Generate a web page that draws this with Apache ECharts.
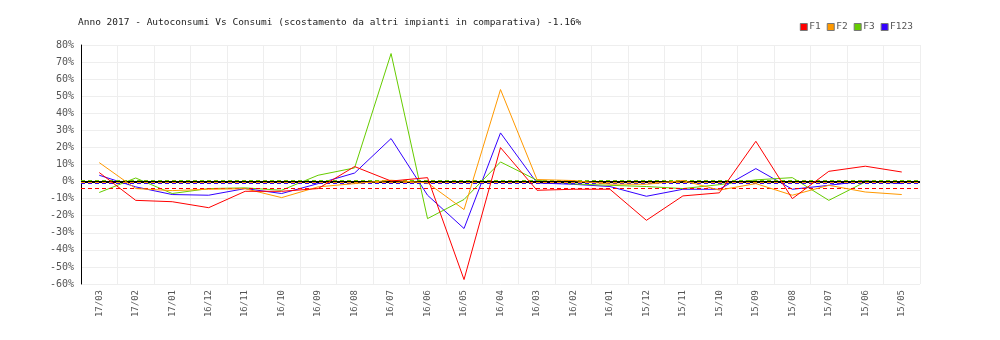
<!DOCTYPE html>
<html>
<head>
<meta charset="utf-8">
<script src="https://cdn.jsdelivr.net/npm/echarts@6/dist/echarts.min.js"></script>
<style>
html,body{margin:0;padding:0;background:#fff;}
#c{width:1000px;height:340px;}
</style>
</head>
<body>
<div id="c"></div>
<script>
const titleText = 'Anno 2017 - Autoconsumi Vs Consumi (scostamento da altri impianti in comparativa) -1.16%';
const categories = ['17/03','17/02','17/01','16/12','16/11','16/10','16/09','16/08','16/07','16/06','16/05','16/04','16/03','16/02','16/01','15/12','15/11','15/10','15/09','15/08','15/07','15/06','15/05'];
const seriesNames = ['F1','F2','F3','F123'];
const f1 = [5.3, -11.0, -11.8, -15.3, -5.7, -5.7, -4.1, 8.8, 0.3, 2.3, -57.4, 19.9, -5.1, -4.5, -4.5, -22.7, -8.4, -6.6, 23.6, -10.0, 6.0, 9.0, 5.6];
const f2 = [11.1, -4.1, -5.3, -4.5, -4.2, -9.4, -3.1, -1.2, 0.8, -0.8, -16.4, 53.9, 1.2, 0.6, -1.5, -1.6, 0.6, -5.0, -1.2, -8.0, -2.2, -6.1, -7.6];
const f3 = [-6.4, 2.1, -7.0, -4.1, -3.7, -5.1, 3.7, 8.0, 75.0, -21.7, -10.5, 11.5, 0.8, -1.4, -2.2, -2.9, -4.1, -1.8, 1.0, 2.3, -11.0, -0.2, -0.4];
const f123 = [3.7, -3.1, -7.6, -8.0, -4.1, -7.0, -1.2, 5.0, 25.2, -8.0, -27.5, 28.5, -0.8, -1.6, -2.9, -8.6, -4.5, -4.5, 7.6, -4.5, -2.2, 0.4, -1.2];
const colors = ['#ff0000','#ff9900','#66cc00','#3300ff'];
const yMin = -60, yMax = 80, yStep = 10;

const mono = 'DejaVu Sans Mono';
const values = [f1, f2, f3, f123];

const series = values.map((d, i) => {
  const ml = [{type: 'average', lineStyle: {color: colors[i], type: [4, 3], width: 1}}];
  if (i === 0) {
    ml.push({yAxis: 0, lineStyle: {color: '#000', type: 'solid', width: 2}});
  }
  return {
    name: seriesNames[i],
    type: 'line',
    data: d,
    symbol: 'none',
    smooth: false,
    lineStyle: {width: 1, color: colors[i]},
    itemStyle: {color: colors[i]},
    z: 3 + (3 - i),
    markLine: {
      silent: true,
      symbol: 'none',
      label: {show: false},
      animation: false,
      data: ml
    }
  };
});

const chart = echarts.init(document.getElementById('c'), null, {renderer: 'canvas'});
chart.setOption({
  animation: false,
  backgroundColor: '#fff',
  color: colors,
  title: {
    text: titleText,
    left: 78,
    top: 18,
    padding: 0,
    textStyle: {fontFamily: mono, fontSize: 9.5, fontWeight: 'normal', color: '#222'}
  },
  legend: {
    right: 82,
    top: 17,
    itemWidth: 7,
    itemHeight: 7,
    itemGap: 6,
    icon: 'rect',
    textStyle: {fontFamily: mono, fontSize: 9.5, color: '#555', padding: [0, 0, 0, -3]},
    itemStyle: {borderColor: '#777', borderWidth: 1},
    data: seriesNames
  },
  grid: {left: 81, right: 80, top: 45, bottom: 56, containLabel: false},
  xAxis: {
    type: 'category',
    data: categories,
    boundaryGap: true,
    axisLine: {show: true, lineStyle: {color: '#eee'}},
    axisTick: {show: false},
    axisLabel: {rotate: 90, interval: 0, fontFamily: mono, fontSize: 9, color: '#555', margin: 6},
    splitLine: {show: true, interval: 0, lineStyle: {color: '#eee', width: 1}}
  },
  yAxis: {
    type: 'value',
    min: yMin,
    max: yMax,
    interval: yStep,
    axisLine: {show: true, onZero: false, lineStyle: {color: '#000', width: 1}},
    axisTick: {show: false},
    axisLabel: {formatter: '{value}%', fontFamily: mono, fontSize: 10, color: '#555', margin: 7},
    splitLine: {show: true, lineStyle: {color: '#eee', width: 1}}
  },
  series: series
});
</script>
</body>
</html>
